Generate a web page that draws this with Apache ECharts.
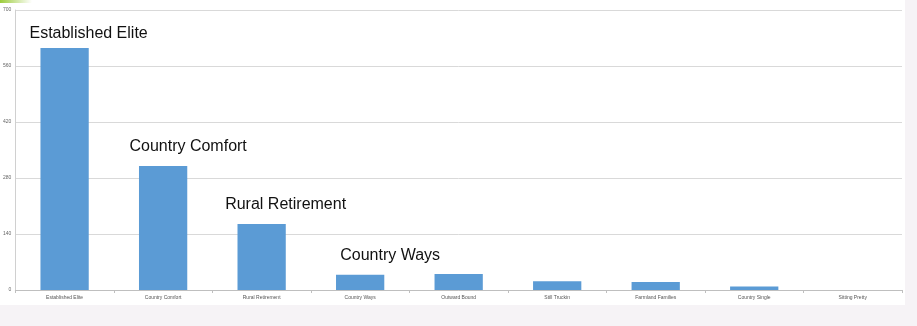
<!DOCTYPE html>
<html>
<head>
<meta charset="utf-8">
<script src="https://cdn.jsdelivr.net/npm/echarts@6/dist/echarts.min.js"></script>
<style>
html,body{margin:0;padding:0;background:#f6f3f6;width:917px;height:326px;overflow:hidden;}
#c{position:absolute;left:0;top:0;width:905px;height:305px;background:#ffffff;}
</style>
</head>
<body>
<div id="c"></div>
<script>
const categories = ["Established Elite","Country Comfort","Rural Retirement","Country Ways","Outward Bound","Still Truckin","Farmland Families","Country Single","Sitting Pretty"];
const values = [605, 310, 165, 38, 40, 22, 20, 9, 0];
const annotations = ["Established Elite","Country Comfort","Rural Retirement","Country Ways","","","","",""];
const yTicks = [0, 140, 280, 420, 560, 700];

const annotOffsets = [[24, 5], [25, 0], [24, 0], [30, 0], [0,0], [0,0], [0,0], [0,0], [0,0]];

const chart = echarts.init(document.getElementById('c'), null, {renderer:'canvas'});
const data = values.map((v, i) => ({
  value: v,
  label: annotations[i] ? {
    show: true, position: 'top', distance: 11, offset: annotOffsets[i],
    formatter: annotations[i], fontSize: 16, color: '#111', fontFamily: 'Liberation Sans, Arial, sans-serif'
  } : {show:false}
}));

chart.setOption({
  animation: false,
  grid: {left: 15, right: 3, top: 10, bottom: 15, containLabel: false},
  graphic: [{
    type: 'rect', left: 0, top: 0, shape: {width: 32, height: 3},
    style: {fill: new echarts.graphic.LinearGradient(0,0,1,0,[{offset:0,color:'#9ccc3c'},{offset:1,color:'#ffffff'}])}
  }],
  xAxis: {
    type: 'category', data: categories,
    axisLine: {show: true, lineStyle: {color: '#bfbfbf', width: 1}},
    axisTick: {show: true, length: 3, lineStyle: {color: '#bfbfbf'}},
    axisLabel: {fontSize: 5, color: '#555', margin: 5, interval: 0, fontFamily: 'Liberation Sans, Arial, sans-serif'}
  },
  yAxis: {
    type: 'value', min: yTicks[0], max: yTicks[yTicks.length-1], interval: yTicks[1]-yTicks[0],
    axisLine: {show: true, lineStyle: {color: '#d0d0d0', width: 1}},
    axisTick: {show: false},
    axisLabel: {fontSize: 5, color: '#666', margin: 4, fontFamily: 'Liberation Sans, Arial, sans-serif'},
    splitLine: {show: true, lineStyle: {color: '#d9d9d9', width: 1}}
  },
  series: [{
    type: 'bar', data: data, barWidth: '49%',
    itemStyle: {color: '#5b9bd5'}
  }]
});
</script>
</body>
</html>
